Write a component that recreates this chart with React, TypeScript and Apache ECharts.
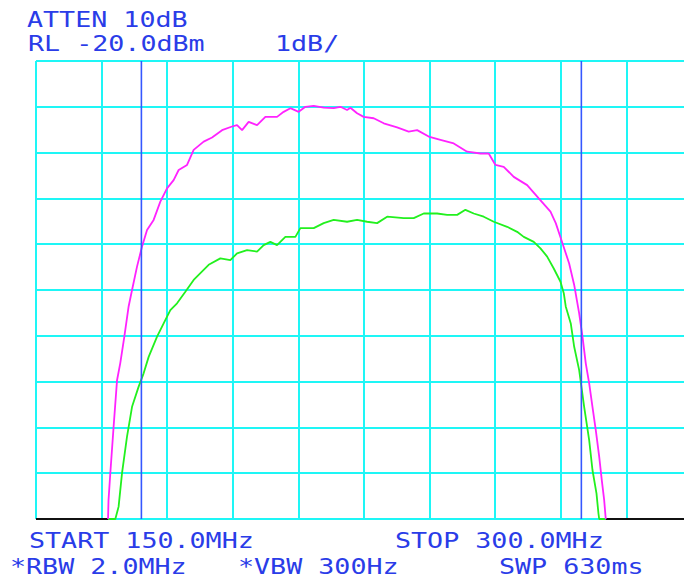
import React, { useEffect, useRef } from "react";
import * as echarts from "echarts";

// Spectrum analyser settings
const startMHz = 150;
const stopMHz = 300;
const refLevel = -20; // dBm, top of screen
const bottomLevel = -30; // 1 dB/div, 10 divisions
const freqStep = 15;

// Trace A (magenta) – frequency (MHz) and level (dBm)
const traceAFreq = [
  166.47, 166.58, 166.99, 167.75, 168.53, 169.28, 170.2, 171.18, 171.96, 173.1,
  174.25, 175.39, 176.9, 178.43, 179.96, 181.47, 182.62, 184.54, 186.05, 188.34,
  190.26, 192.54, 194.83, 195.97, 197.12, 198.63, 200.55, 202.45, 205.12, 206.63,
  208.17, 210.06, 211.6, 213.5, 215.78, 218.07, 219.6, 221.13, 221.89, 223.42,
  224.93, 227.22, 229.51, 232.57, 235.22, 237.15, 239.8, 242.48, 245.52, 248.58,
  251.63, 253.52, 255.06, 256.95, 259.24, 262.31, 264.96, 267.64, 268.85, 270.38,
  271.91, 273.06, 274.2, 274.96, 275.71, 276.49, 277.24, 278.0, 278.78, 279.37,
  279.92, 280.28,
];
const traceADb = [
  -30.0, -29.59, -29.0, -27.98, -26.97, -26.59, -26.02, -25.36, -25.0, -24.49,
  -24.05, -23.69, -23.47, -23.07, -22.78, -22.6, -22.38, -22.27, -21.94, -21.76,
  -21.67, -21.51, -21.43, -21.4, -21.51, -21.33, -21.4, -21.22, -21.22, -21.11,
  -21.03, -21.11, -21.0, -20.98, -21.02, -21.03, -21.0, -21.07, -21.02, -21.14,
  -21.22, -21.25, -21.36, -21.45, -21.54, -21.51, -21.65, -21.72, -21.8, -21.98,
  -22.02, -22.02, -22.27, -22.31, -22.53, -22.71, -23.0, -23.29, -23.54, -23.98,
  -24.42, -24.89, -25.51, -26.02, -26.6, -27.04, -27.55, -28.06, -28.64, -29.15,
  -29.59, -30.0,
];

// Trace B (green)
const traceBFreq = [
  166.47, 168.14, 168.89, 169.67, 170.81, 171.96, 173.47, 174.61, 175.76, 177.68,
  179.19, 180.72, 182.25, 184.15, 186.05, 189.48, 192.15, 194.44, 195.97, 198.26,
  200.55, 202.06, 203.59, 205.12, 207.02, 209.31, 210.45, 213.5, 215.78, 218.07,
  221.13, 223.42, 225.71, 228.0, 230.29, 234.08, 236.37, 238.66, 241.72, 244.01,
  246.3, 248.19, 250.09, 252.38, 254.67, 257.73, 260.02, 261.53, 263.82, 265.35,
  266.88, 268.39, 269.93, 270.68, 271.13, 272.28, 273.06, 274.2, 275.34, 276.49,
  277.24, 278.16, 278.61, 278.78, 280.28,
];
const traceBDb = [
  -30.0, -30.0, -29.73, -29.0, -28.2, -27.55, -27.11, -26.82, -26.46, -26.02,
  -25.73, -25.44, -25.29, -25.04, -24.78, -24.45, -24.31, -24.35, -24.2, -24.13,
  -24.16, -24.02, -23.95, -24.02, -23.84, -23.84, -23.65, -23.65, -23.54, -23.47,
  -23.51, -23.47, -23.51, -23.54, -23.4, -23.43, -23.43, -23.33, -23.33, -23.36,
  -23.36, -23.25, -23.33, -23.4, -23.51, -23.62, -23.73, -23.84, -23.95, -24.09,
  -24.27, -24.53, -24.82, -25.07, -25.36, -25.73, -26.24, -26.75, -27.55, -28.28,
  -28.93, -29.44, -29.88, -30.0, -30.0,
];

// Where both traces sit below the screen (drawn in black)
const baselineFreq = [150, 166.47, null, 280.28, 300];

// Marker lines (MHz)
const markerFreqs = [174.1, 274.7];

// Annotation texts
const topLine1 = "ATTEN 10dB";
const topLine2a = "RL -20.0dBm";
const topLine2b = "1dB/";
const bottomLine1a = "START 150.0MHz";
const bottomLine1b = "STOP 300.0MHz";
const bottomLine2a = "*RBW 2.0MHz";
const bottomLine2b = "*VBW 300Hz";
const bottomLine2c = "SWP 630ms";

const textBlue = "#2a3ce8";

export default function App() {
  const ref = useRef<HTMLDivElement>(null);

  useEffect(() => {
    if (!ref.current) return;
    const chart = echarts.init(ref.current, null, { renderer: "svg" });

    const pairs = (xs: number[], ys: number[]) => xs.map((x, i) => [x, ys[i]]);
    const baseData = baselineFreq.map((f) => (f === null ? [null, null] : [f, bottomLevel]));

    const txt = (s: string, x: number, y: number) => ({
      type: "text",
      x,
      y,
      scaleX: 1.27,
      silent: true,
      style: {
        text: s,
        fill: textBlue,
        font: '21px "DejaVu Sans Mono"',
        verticalAlign: "middle",
        align: "left",
      },
    });

    const markerSeries = markerFreqs.map((f) => ({
      type: "line",
      data: [
        [f, bottomLevel],
        [f, refLevel],
      ],
      symbol: "none",
      lineStyle: { color: "#3557ff", width: 1.6 },
      z: 5,
      silent: true,
    }));

    chart.setOption({
      animation: false,
      backgroundColor: "#ffffff",
      grid: { left: 36, top: 61, width: 656, height: 458, containLabel: false },
      xAxis: {
        type: "value",
        min: startMHz,
        max: stopMHz,
        interval: freqStep,
        axisLine: { show: false },
        axisTick: { show: false },
        axisLabel: { show: false },
        splitLine: { show: true, lineStyle: { color: "#1ef6f6", width: 2 } },
      },
      yAxis: {
        type: "value",
        min: bottomLevel,
        max: refLevel,
        interval: 1,
        axisLine: { show: false },
        axisTick: { show: false },
        axisLabel: { show: false },
        splitLine: { show: true, lineStyle: { color: "#1ef6f6", width: 2 } },
      },
      series: [
        {
          type: "line",
          data: baseData,
          symbol: "none",
          connectNulls: false,
          lineStyle: { color: "#111111", width: 2 },
          z: 3,
          silent: true,
        },
        {
          type: "line",
          data: pairs(traceBFreq, traceBDb),
          symbol: "none",
          lineStyle: { color: "#22f01e", width: 1.8 },
          z: 3,
          silent: true,
        },
        {
          type: "line",
          data: pairs(traceAFreq, traceADb),
          symbol: "none",
          lineStyle: { color: "#ff22ff", width: 1.8 },
          z: 4,
          silent: true,
        },
        ...markerSeries,
      ],
      graphic: [
        txt(topLine1, 27, 20.5),
        txt(topLine2a, 28, 44.5),
        txt(topLine2b, 275, 44.5),
        txt(bottomLine1a, 29, 541.5),
        txt(bottomLine1b, 395, 541.5),
        txt(bottomLine2a, 10, 567.5),
        txt(bottomLine2b, 238, 567.5),
        txt(bottomLine2c, 499, 567.5),
      ],
    });

    return () => chart.dispose();
  }, []);

  return (
    <div
      style={{
        position: "absolute",
        left: 0,
        top: 0,
        width: 684,
        height: 580,
        overflow: "hidden",
        background: "#fff",
      }}
    >
      <div ref={ref} style={{ width: 700, height: 580 }} />
    </div>
  );
}
